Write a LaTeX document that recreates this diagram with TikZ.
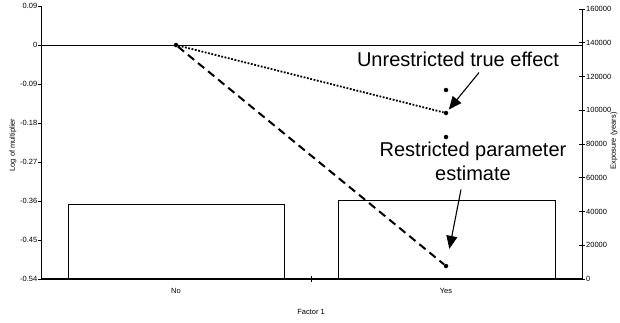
\documentclass[tikz,border=0pt]{standalone}
\usepackage{fontspec}
\setmainfont{Liberation Sans}
\usepackage{tikz}
\usetikzlibrary{arrows.meta, positioning}
\definecolor{axisBlack}{HTML}{000000}

\begin{document}
\begin{tikzpicture}[
    x=1pt, y=-1pt,
    axis/.style={line width=0.9pt, color=axisBlack},
    tick/.style={font=\fontsize{7.5}{8}\selectfont},
    bar/.style={rectangle, draw, line width=0.9pt, fill=white, inner sep=0pt},
    plotdot/.style={circle, fill=black, inner sep=0pt, minimum size=4.5pt},
    callout/.style={font=\fontsize{20}{24}\selectfont, align=center, inner sep=1pt},
    pointer/.style={-{Triangle[length=13pt,width=11pt]}, line width=1.1pt},
]
\useasboundingbox (0,0) rectangle (620,322);

% Exposure bars
\node[bar, anchor=south west, minimum width=216pt, minimum height=74pt] (barNo) at (68,279) {};
\node[bar, anchor=south west, minimum width=217pt, minimum height=78pt] (barYes) at (338,279) {};

% Axes
\coordinate (lTop) at (41,6);
\coordinate (lBot) at (41,279);
\coordinate (rTop) at (582,9);
\coordinate (rBot) at (582,279);
\coordinate (zeroL) at (41,45);
\coordinate (zeroR) at (582,45);
\draw[axis] (lTop) -- (lBot);
\draw[axis] (rTop) -- (rBot);
\draw[axis, line width=1.4pt] (lBot) -- (rBot);
\draw[axis] (zeroL) -- (zeroR);
\draw[axis] (311,276) -- (311,282);

% Left scale
\foreach \v [count=\i from 0] in {0.09,0,-0.09,-0.18,-0.27,-0.36,-0.45,-0.54} {
    \draw[axis] (38,6+39*\i) -- (41,6+39*\i);
    \node[tick, anchor=east, inner sep=1pt] at (38.5,6+39*\i) {\v};
}
% Right scale
\foreach \v [count=\i from 0] in {0,20000,40000,60000,80000,100000,120000,140000,160000} {
    \draw[axis] (579,279-33.75*\i) -- (585,279-33.75*\i);
    \node[tick, anchor=west, inner sep=1pt] at (585,279-33.75*\i) {\v};
}

% Axis titles
\node[tick, rotate=90] (ytitle) at (13,145) {Log of multiplier};
\node[tick, rotate=90] (y2title) at (614,141) {Exposure (years)};
\node[tick] (catNo) at (176,291) {No};
\node[tick] (catYes) at (446,291) {Yes};
\node[tick] (xtitle) at (311,312) {Factor 1};

% Effect points
\node[plotdot] (start) at (176,45) {};
\node[plotdot] (trueEff) at (446,113) {};
\node[plotdot] (restEst) at (446,266) {};
\node[plotdot] (upper) at (446,90) {};
\node[plotdot] (lower) at (446,137) {};

\draw[line width=1.8pt, dash pattern=on 1.8pt off 1.6pt] (start) -- (trueEff);
\draw[line width=2pt, dash pattern=on 8pt off 5pt] (start) -- (restEst);

% Callouts
\node[callout] (unres) at (458,59) {Unrestricted true effect};
\node[callout] (res) at (473,161) {Restricted parameter\\estimate};
\draw[pointer, shorten >=2pt] ([xshift=21pt,yshift=-5pt]unres.south) -- (trueEff);
\draw[pointer, shorten >=15pt] ([xshift=-12pt,yshift=-8pt]res.south) -- (restEst);

\end{tikzpicture}
\end{document}
